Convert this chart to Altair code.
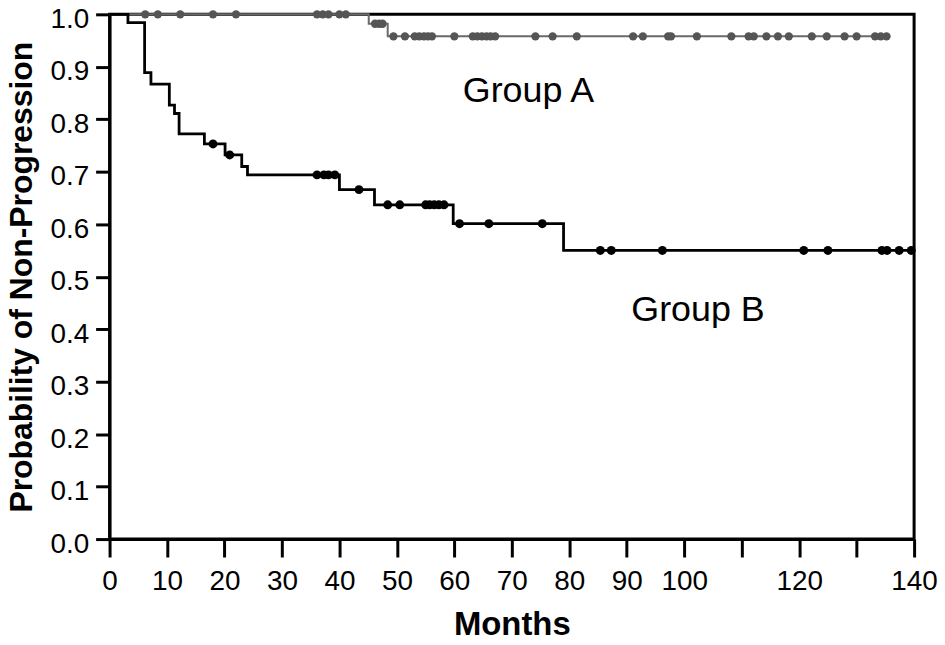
import altair as alt
import pandas as pd

# ---------------- data ----------------
groups = ["Group A", "Group B"]

# Group A: step times / survival after the step, end of follow-up, censor times
a_step_t = [0, 45.1, 48.4]
a_step_s = [1.0, 0.982, 0.958]
a_last_t = 135.2
a_cens_t = [6.2, 8.4, 12.3, 18.0, 22.0, 36.1, 37.1, 38.1, 40.0, 41.1,
            46.2, 46.9, 47.5,
            49.4, 51.4, 53.1, 53.9, 54.7, 55.4, 56.1, 60.0, 63.2, 64.0, 64.8,
            65.6, 66.3, 67.1, 74.1, 77.1, 81.3, 91.1, 92.8, 97.2, 97.7, 102.2,
            108.2, 111.2, 112.1, 114.3, 116.3, 118.2, 122.2, 124.8, 127.9,
            130.0, 133.2, 134.2, 135.2]

# Group B
b_step_t = [0, 3.2, 6.1, 7.2, 10.4, 11.3, 12.1, 16.5, 20.1, 23.0, 24.0,
            40.0, 46.1, 59.8, 79.0]
b_step_s = [1.0, 0.984, 0.889, 0.867, 0.827, 0.811, 0.772, 0.753, 0.732,
            0.710, 0.694, 0.666, 0.637, 0.601, 0.550]
b_last_t = 139.5
b_cens_t = [18.0, 20.9, 36.1, 37.3, 38.1, 39.2, 43.4, 48.4, 50.5, 55.0, 55.7,
            56.5, 57.3, 58.2, 60.9, 66.0, 75.3, 85.4, 87.3, 96.2, 120.8,
            125.0, 134.4, 135.3, 137.4, 139.5]

# annotations
label_text = ["Group A", "Group B"]
label_t = [72.9, 102.4]
label_s = [0.832, 0.416]

x_ticks = list(range(0, 141, 10))
y_ticks = [0.0, 0.1, 0.2, 0.3, 0.4, 0.5, 0.6, 0.7, 0.8, 0.9, 1.0]


def step_value(ts, ss, t):
    v = ss[0]
    for ti, si in zip(ts, ss):
        if ti <= t:
            v = si
    return v


def curve_df(ts, ss, last_t):
    rows = [{"t": t, "s": s} for t, s in zip(ts, ss)]
    rows.append({"t": last_t, "s": ss[-1]})
    return pd.DataFrame(rows)


def cens_df(ts, ss, cens):
    return pd.DataFrame({"t": cens, "s": [step_value(ts, ss, c) for c in cens]})


line_a_df = curve_df(a_step_t, a_step_s, a_last_t)
line_b_df = curve_df(b_step_t, b_step_s, b_last_t)
pts_a_df = cens_df(a_step_t, a_step_s, a_cens_t)
pts_b_df = cens_df(b_step_t, b_step_s, b_cens_t)
lab_df = pd.DataFrame({"t": label_t, "s": label_s, "label": label_text})

FONT = "Liberation Sans"

X = alt.X(
    "t:Q",
    scale=alt.Scale(domain=[0, 140], nice=False, zero=False),
    axis=alt.Axis(
        values=x_ticks,
        format="d",
        labelExpr="(datum.value == 110 || datum.value == 130) ? '' : datum.label",
        labelFlush=False,
        labelOverlap=False,
        tickSize=18,
        labelPadding=11,
        title="Months",
        titleFontSize=33,
        titleFontWeight="bold",
        titleFont=FONT,
        titleY=96,
        titleBaseline="alphabetic",
    ),
)
Y = alt.Y(
    "s:Q",
    scale=alt.Scale(domain=[0, 1], nice=False),
    axis=alt.Axis(
        values=y_ticks,
        format=".1f",
        labelFlush=False,
        labelOverlap=False,
        labelOffset=5,
        tickSize=14,
        labelPadding=7,
        title="Probability of Non-Progression",
        titleFontSize=32,
        titleFontWeight="bold",
        titleFont=FONT,
        titleAngle=270,
        titleX=-78,
        titleY=263.5,
        titleBaseline="alphabetic",
    ),
)

line_a = alt.Chart(line_a_df).mark_line(
    interpolate="step-after", color="#6a6a6a", strokeWidth=2
).encode(x=X, y=Y)
line_b = alt.Chart(line_b_df).mark_line(
    interpolate="step-after", color="#000000", strokeWidth=2.8
).encode(x=X, y=Y)
pts_a = alt.Chart(pts_a_df).mark_point(
    filled=True, shape="circle", color="#555555", size=70, opacity=1
).encode(x=X, y=Y)
pts_b = alt.Chart(pts_b_df).mark_point(
    filled=True, shape="circle", color="#000000", size=80, opacity=1
).encode(x=X, y=Y)
labels = alt.Chart(lab_df).mark_text(
    font=FONT, fontSize=36, baseline="alphabetic", align="center", color="black"
).encode(x=X, y=Y, text="label:N")

chart = (
    alt.layer(line_a, line_b, pts_a, pts_b, labels)
    .properties(
        width=808,
        height=527,
        padding={"left": 102, "top": 5, "right": 23, "bottom": 97},
        autosize=alt.AutoSizeParams(type="none"),
        background="white",
    )
    .configure_view(stroke="black", strokeWidth=3)
    .configure_axis(
        grid=False,
        domainColor="black",
        domainWidth=3,
        tickColor="black",
        tickWidth=3,
        labelFont=FONT,
        labelFontSize=28,
        labelColor="black",
        titleColor="black",
    )
)

chart.save("out.html", embed_options={"renderer": "svg", "actions": False})
